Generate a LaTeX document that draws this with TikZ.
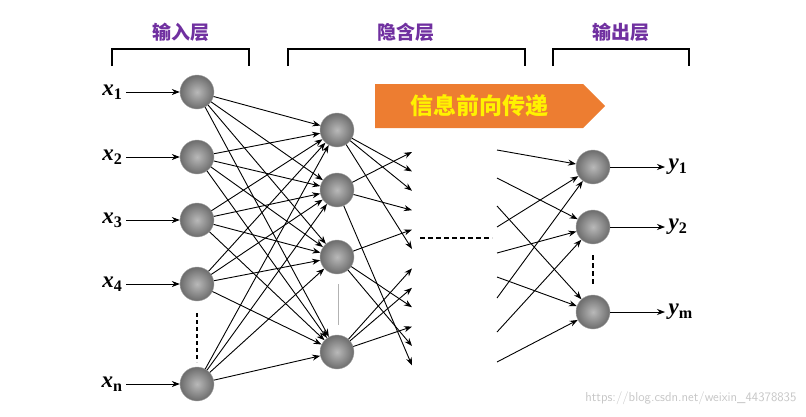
\documentclass[tikz,border=0pt]{standalone}
\usepackage{fontspec}
\setmainfont{Liberation Serif}
\newfontfamily\cjk{Noto Sans CJK SC}
\usetikzlibrary{arrows.meta,shapes.arrows}
\definecolor{layerpurple}{RGB}{112,48,160}
\definecolor{flowor}{RGB}{237,125,49}
\tikzset{
  neuron/.style={circle,minimum size=34pt,inner sep=0pt,draw=gray!70,shade,inner color=gray!55,outer color=gray!85!black},
  conn/.style={-{Stealth[length=8pt,width=6pt]},line width=0.9pt},
  bracket/.style={line width=2pt},
  layername/.style={font=\cjk\bfseries\fontsize{19}{19}\selectfont,text=layerpurple},
  varname/.style={font=\bfseries\fontsize{23}{23}\selectfont}
}
\begin{document}
\begin{tikzpicture}[x=1pt,y=-1pt]
  \useasboundingbox (0,0) rectangle (806,416);
  % layer brackets
  \draw[bracket] (112,66) -- (112,49) -- (249,49) -- (249,66);
  \draw[bracket] (288,66) -- (288,49) -- (525,49) -- (525,66);
  \draw[bracket] (553,66) -- (553,49) -- (689,49) -- (689,66);
  \node[layername] (lin) at (181,32) {输入层};
  \node[layername] (lhid) at (406,32) {隐含层};
  \node[layername] (lout) at (621,32) {输出层};
  % direction banner
  \node[single arrow,fill=flowor,minimum height=230pt,minimum width=44pt,single arrow head extend=0pt,
        single arrow tip angle=90,inner sep=2pt,text=yellow,anchor=tail,font=\cjk\bfseries\fontsize{23}{23}\selectfont]
        (flow) at (375,106) {信息前向传递};
  % input layer
  \foreach \i/\y/\s in {1/92/1,2/157/2,3/220/3,4/284/4,5/384/n} {
    \node[neuron] (in\i) at (197,\y) {};
    \node[varname,anchor=east] (x\i) at (126,\y) {\textit{x}\textsubscript{\s}};
    \draw[conn,line width=0.7pt] (x\i) -- (in\i);
  }
  \draw[dash pattern=on 4pt off 3pt,line width=2pt] (197,313) -- (197,362);
  % hidden layer
  \foreach \j/\y in {1/130,2/190,3/257,4/352}
    \node[neuron] (hid\j) at (337,\y) {};
  \draw[gray!60] (338,284) -- (338,325);
  \foreach \i in {1,...,5} \foreach \j in {1,...,4}
    \draw[conn] (in\i) -- (hid\j);
  % loose ends of the hidden layer
  \foreach \k in {1,...,12}
    \coordinate (tip\k) at (412,{152+(\k-1)*19.4});
  \foreach \j/\a/\b/\c in {1/2/3/6,2/1/4/12,3/5/9/11,4/7/8/10} {
    \draw[conn] (hid\j) -- (tip\a);
    \draw[conn] (hid\j) -- (tip\b);
    \draw[conn] (hid\j) -- (tip\c);
  }
  \draw[dash pattern=on 5pt off 3pt,line width=1.8pt] (420,238) -- (492,238);
  % output layer
  \foreach \o/\y/\s in {1/167/1,2/227/2,3/312/m} {
    \node[neuron] (out\o) at (593,\y) {};
    \node[varname,anchor=west] (y\o) at (665,\y) {\textit{y}\textsubscript{\s}};
    \draw[conn,line width=0.7pt] (out\o) -- (y\o);
  }
  \draw[dash pattern=on 5pt off 3pt,line width=2pt] (593,255) -- (593,286);
  \foreach \k/\y/\o in {1/150/1,2/178/2,3/206/3,4/227/1,5/253/2,6/277/3,7/298/1,8/332/2,9/362/3} {
    \coordinate (src\k) at (497,\y);
    \draw[conn] (src\k) -- (out\o);
  }
  \node[text=gray!45,font=\sffamily\fontsize{13}{13}\selectfont,anchor=east] (mark) at (800,398)
    {https://blog.csdn.net/weixin\_44378835};
\end{tikzpicture}
\end{document}
